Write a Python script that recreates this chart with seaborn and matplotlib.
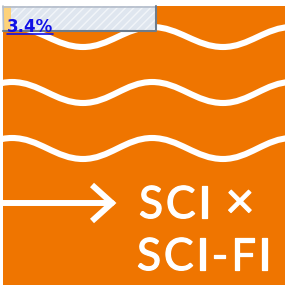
import numpy as np
import seaborn as sns
import matplotlib.pyplot as plt
import matplotlib.patheffects as pe
from matplotlib.patches import Rectangle, PathPatch
from matplotlib.path import Path

# picture content (pixel coordinates)
wave_peak_y = [27, 82, 138]
wave_trough_y = [47, 103, 159]
wave_peak_x = [12, 152, 292]
wave_trough_x = [-58, 83, 223]
arrow_x = [3, 112]
arrow_y = 203
title_lines = ["SCI ×", "SCI-FI"]
title_x = [139, 137]
title_y = [218, 270]
progress_label = "3.4%"

orange = "#ef7500"

sns.set_theme(style="white")
plt.rcParams['font.family'] = ['Lato', 'DejaVu Sans']

fig = plt.figure(figsize=(2.85, 2.85), dpi=100)
ax = fig.add_axes([0, 0, 1, 1])
ax.set_xlim(0, 285)
ax.set_ylim(285, 0)
ax.axis("off")

# orange tile
ax.add_patch(Rectangle((3, 6), 282, 279, facecolor=orange, edgecolor="none", zorder=0))

# wavy lines, cubic bezier between alternating troughs and peaks
for py, ty in zip(wave_peak_y, wave_trough_y):
    knots = sorted([(x, ty) for x in wave_trough_x] + [(x, py) for x in wave_peak_x])
    verts = [knots[0]]
    codes = [Path.MOVETO]
    for (x0, y0), (x1, y1) in zip(knots[:-1], knots[1:]):
        d = 0.38 * (x1 - x0)
        verts += [(x0 + d, y0), (x1 - d, y1), (x1, y1)]
        codes += [Path.CURVE4] * 3
    patch = PathPatch(Path(verts, codes), facecolor="none", edgecolor="white",
                      lw=4.4, capstyle="butt", zorder=2)
    ax.add_patch(patch)
    patch.set_clip_path(Rectangle((3, 6), 282, 279, transform=ax.transData))

# arrow
sns.lineplot(x=arrow_x, y=[arrow_y, arrow_y], color="white", lw=4.3, ax=ax, zorder=3)
ax.plot([92, arrow_x[1], 92], [185, arrow_y, 221], color="white", lw=4.3,
        solid_joinstyle="miter", solid_capstyle="butt", zorder=3)

# title, with some letter spacing and a slightly heavier stroke
renderer = fig.canvas.get_renderer()
tracking = 2.6
heavy = [pe.withStroke(linewidth=0.9, foreground="white")]
for line, x0, y0 in zip(title_lines, title_x, title_y):
    for i, ch in enumerate(line):
        probe = ax.text(0, 0, line[:i] + "|", fontsize=32)
        bar = ax.text(0, 0, "|", fontsize=32)
        adv = probe.get_window_extent(renderer).width - bar.get_window_extent(renderer).width
        probe.remove()
        bar.remove()
        size = 36 if ch == "×" else 32
        ax.text(x0 + adv + i * tracking - (2 if ch == "×" else 0), y0, ch,
                color="white", fontsize=size, ha="left", va="baseline",
                path_effects=heavy, zorder=3)

# progress bar overlay
ax.add_patch(Rectangle((3, 6), 153, 25, facecolor="#dfe6ef", edgecolor="none", zorder=5))
ax.add_patch(Rectangle((3, 6), 153, 25, facecolor="none", edgecolor="#f2f5f9",
                       hatch="////", lw=0, zorder=6))
ax.add_patch(Rectangle((3, 6), 8, 25, facecolor="#fdd27a", edgecolor="none", zorder=7))
ax.plot([3, 156], [6.5, 6.5], color="#b4bdca", lw=1.2, zorder=8)
ax.plot([3, 3.5], [6, 31], color="#b4bdca", lw=1.2, zorder=8)
ax.plot([3, 156, 156], [30.5, 30.5, 6], color="#6d7c8c", lw=1.5, zorder=8)
ax.text(7, 31.5, progress_label, color="#1010e6", fontsize=12, fontweight="bold",
        family="DejaVu Sans", ha="left", va="baseline", zorder=9)
ax.plot([7, 53], [33.5, 33.5], color="#1010e6", lw=1.2, zorder=9)

fig.savefig("out.png", dpi=100)
